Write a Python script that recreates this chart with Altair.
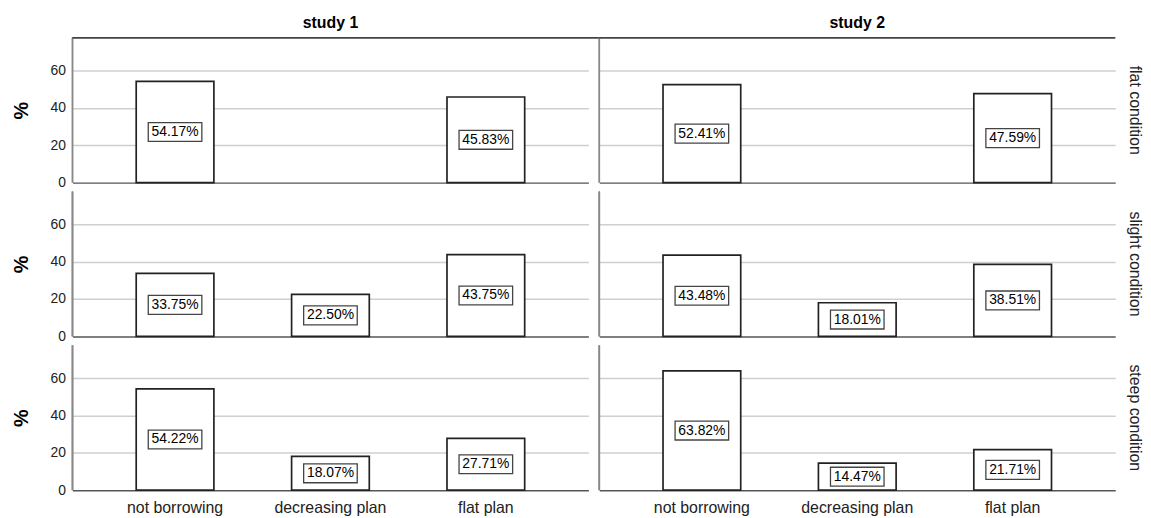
import altair as alt
import pandas as pd

FONT = "Liberation Sans"

studies = ["study 1", "study 2"]
conditions = ["flat condition", "slight condition", "steep condition"]
plans = ["not borrowing", "decreasing plan", "flat plan"]

# percentages per plan (None = category absent)
study1_flat = [54.17, None, 45.83]
study1_slight = [33.75, 22.50, 43.75]
study1_steep = [54.22, 18.07, 27.71]
study2_flat = [52.41, None, 47.59]
study2_slight = [43.48, 18.01, 38.51]
study2_steep = [63.82, 14.47, 21.71]

series = {
    ("study 1", "flat condition"): study1_flat,
    ("study 1", "slight condition"): study1_slight,
    ("study 1", "steep condition"): study1_steep,
    ("study 2", "flat condition"): study2_flat,
    ("study 2", "slight condition"): study2_slight,
    ("study 2", "steep condition"): study2_steep,
}

rows = []
for (study, cond), vals in series.items():
    for plan, v in zip(plans, vals):
        if v is not None:
            rows.append({"study": study, "condition": cond, "plan": plan, "pct": v})
df = pd.DataFrame(rows)

W, H = 520, 146
GAP = 11

x_enc = alt.X(
    "plan:N",
    sort=plans,
    scale=alt.Scale(domain=plans, paddingInner=0.5, paddingOuter=0.41),
    axis=alt.Axis(title=None, labelAngle=0, ticks=False, tickSize=0, domain=False,
                  grid=False, labelFontSize=16, labelPadding=9, labelColor="#222",
                  labelFont=FONT),
)
y_scale = alt.Scale(domain=[0, 77.5], nice=False, zero=True)
y_axis = alt.Axis(
    values=[0, 20, 40, 60], title="%", grid=True,
    gridColor={"condition": {"test": "datum.value === 0", "value": "#555555"}, "value": "#cfcfcf"},
    gridWidth=1.5, domain=False, ticks=False, tickSize=0, labelPadding=7,
    labelFontSize=14, labelColor="#222", labelFont=FONT,
    titleFontSize=20, titleFontWeight="bold", titlePadding=19, titleColor="black",
    titleFont=FONT,
)

left_line = alt.Chart().mark_rule(color="#888888", strokeWidth=1.5).encode(
    x=alt.value(0), y=alt.value(0), y2=alt.value(H)
)

bars = alt.Chart().mark_bar(fill="white", stroke="#222222", strokeWidth=1.7).encode(
    x=x_enc, y=alt.Y("pct:Q", scale=y_scale, axis=y_axis)
)

box_path = "M-1,-0.352 L1,-0.352 L1,0.352 L-1,0.352 Z"
boxes = alt.Chart().transform_calculate(mid="datum.pct / 2").mark_point(
    shape=box_path, size=2916, filled=True, fill="white", stroke="#444444",
    strokeWidth=1.3, opacity=1
).encode(x=x_enc, y=alt.Y("mid:Q", scale=y_scale, axis=y_axis))

labels = alt.Chart().transform_calculate(
    mid="datum.pct / 2", lab="format(datum.pct, '.2f') + '%'"
).mark_text(font=FONT, fontSize=14, color="black", baseline="middle").encode(
    x=x_enc, y=alt.Y("mid:Q", scale=y_scale, axis=y_axis), text="lab:N"
)

top1 = alt.Chart().transform_filter(
    "datum.condition === 'flat condition' && datum.study === 'study 1'"
).mark_rule(color="#444444", strokeWidth=1.5).encode(
    x=alt.value(0), x2=alt.value(W + GAP), y=alt.value(0)
)
top2 = alt.Chart().transform_filter(
    "datum.condition === 'flat condition' && datum.study === 'study 2'"
).mark_rule(color="#444444", strokeWidth=1.5).encode(
    x=alt.value(0), x2=alt.value(W), y=alt.value(0)
)

layered = alt.layer(left_line, bars, boxes, labels, top1, top2).properties(width=W, height=H)

chart = layered.facet(
    data=df,
    column=alt.Column("study:N", sort=studies, header=alt.Header(
        title=None, labelFontSize=16, labelFontWeight="bold", labelFont=FONT,
        labelColor="black", labelPadding=7)),
    row=alt.Row("condition:N", sort=conditions, header=alt.Header(
        title=None, labelAngle=90, labelOrient="right", labelFontSize=16,
        labelFont=FONT, labelColor="#222", labelPadding=12)),
    spacing={"row": 9, "column": GAP},
    bounds="flush",
).properties(
    padding={"left": 3, "top": 5, "right": 0, "bottom": 0}
).configure_view(stroke=None)

chart.save("out.html", embed_options={"renderer": "svg", "actions": False})
